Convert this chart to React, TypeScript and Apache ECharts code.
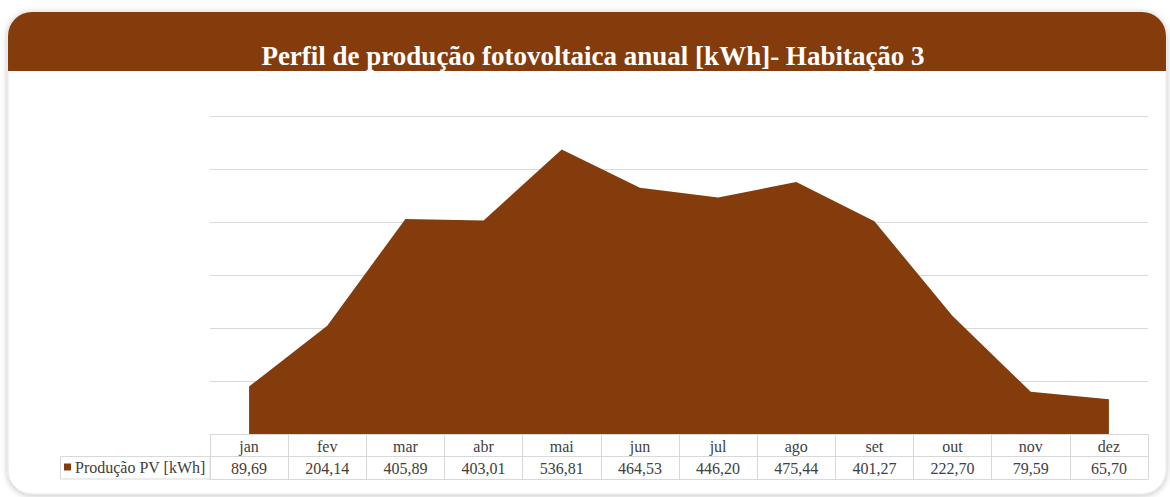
import React, { useEffect, useRef } from "react";
import * as echarts from "echarts";

const months = ["jan", "fev", "mar", "abr", "mai", "jun", "jul", "ago", "set", "out", "nov", "dez"];
const production = [89.69, 204.14, 405.89, 403.01, 536.81, 464.53, 446.2, 475.44, 401.27, 222.7, 79.59, 65.7];
const seriesName = "Produção PV [kWh]";
const titleText = "Perfil de produção fotovoltaica anual [kWh]- Habitação 3";
const yMin = 0;
const yMax = 600;
const yInterval = 100;

const BROWN = "#843c0c";
const LINE = "#d9d9d9";
const SERIF = "'Liberation Serif', 'Times New Roman', serif";
const TXT = "#404040";

const fmt = (v: number) => v.toFixed(2).replace(".", ",");

export default function App() {
  const ref = useRef<HTMLDivElement>(null);
  useEffect(() => {
    if (!ref.current) return;
    const chart = echarts.init(ref.current, null, { renderer: "svg" });
    chart.setOption({
      animation: false,
      graphic: [
        {
          type: "rect",
          z: -10,
          shape: { x: 8, y: 12, width: 1158, height: 482, r: 24 },
          style: { fill: "#fff", stroke: "#e6e6e6", lineWidth: 1, shadowBlur: 6, shadowColor: "rgba(0,0,0,0.25)", shadowOffsetY: 1 },
        },
        {
          type: "rect",
          z: -9,
          shape: { x: 8, y: 12, width: 1158, height: 59, r: [24, 24, 0, 0] },
          style: { fill: BROWN },
        },
        {
          type: "text",
          z: 10,
          x: 593,
          y: 56,
          style: {
            text: titleText,
            fill: "#fff",
            font: `bold 27px ${SERIF}`,
            textAlign: "center",
            textVerticalAlign: "middle",
          },
        },
        {
          type: "rect",
          z: 5,
          shape: { x: 60.5, y: 456.5, width: 149.5, height: 22.5 },
          style: { fill: "none", stroke: LINE, lineWidth: 1 },
        },
      ],
      legend: {
        left: 64,
        top: 459,
        padding: 0,
        icon: "rect",
        itemWidth: 7,
        itemHeight: 7,
        itemGap: 4,
        textStyle: { fontFamily: SERIF, fontSize: 16, color: TXT, padding: [0, 0, 0, -1] },
        data: [seriesName],
      },
      grid: { left: 210, right: 22, top: 116, bottom: 63 },
      xAxis: [
        {
          type: "category",
          data: months,
          position: "bottom",
          boundaryGap: true,
          axisLine: { show: true, lineStyle: { color: LINE, width: 1 } },
          axisTick: { show: true, length: 45, lineStyle: { color: LINE, width: 1 } },
          axisLabel: { margin: 4, fontFamily: SERIF, fontSize: 16, color: TXT, interval: 0 },
          splitLine: { show: false },
        },
        {
          type: "category",
          data: months,
          position: "bottom",
          offset: 22,
          boundaryGap: true,
          axisLine: { show: true, lineStyle: { color: LINE, width: 1 } },
          axisTick: { show: false },
          axisLabel: {
            margin: 4,
            fontFamily: SERIF,
            fontSize: 16,
            color: TXT,
            interval: 0,
            formatter: (_v: string, i: number) => fmt(production[i]),
          },
        },
        {
          type: "category",
          data: months,
          position: "bottom",
          offset: 45,
          boundaryGap: true,
          axisLine: { show: true, lineStyle: { color: LINE, width: 1 } },
          axisTick: { show: false },
          axisLabel: { show: false },
        },
      ],
      yAxis: {
        type: "value",
        min: yMin,
        max: yMax,
        interval: yInterval,
        axisLabel: { show: false },
        axisLine: { show: false },
        axisTick: { show: false },
        splitLine: { show: true, lineStyle: { color: LINE, width: 1 } },
      },
      series: [
        {
          name: seriesName,
          type: "line",
          xAxisIndex: 0,
          data: production,
          symbol: "none",
          lineStyle: { width: 0, color: BROWN },
          itemStyle: { color: BROWN },
          areaStyle: { color: BROWN, opacity: 1 },
          z: 3,
        },
      ],
    });
    return () => chart.dispose();
  }, []);
  return (
    <div style={{ position: "fixed", left: 0, top: 0, width: 1170, height: 497, background: "#fff" }}>
      <div ref={ref} style={{ width: 1170, height: 497 }} />
    </div>
  );
}
